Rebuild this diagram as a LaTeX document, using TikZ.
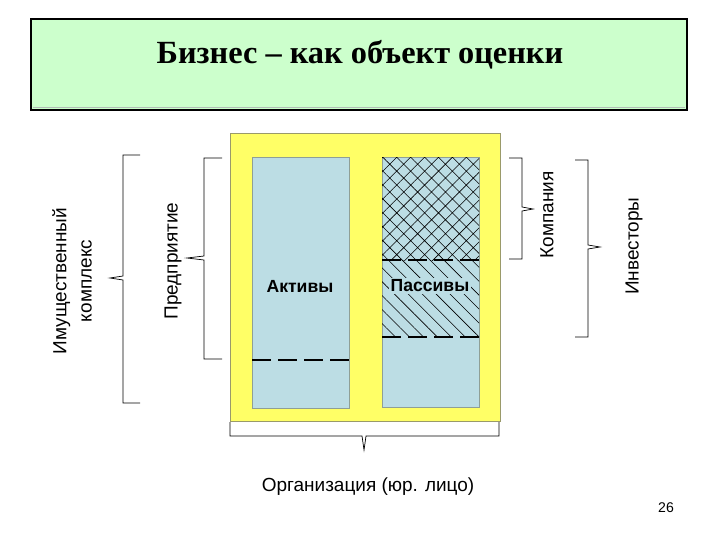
\documentclass[tikz,border=0pt]{standalone}
\usepackage{fontspec}
\setmainfont{Liberation Sans}
\newfontfamily\titlefont{Liberation Serif}
\usetikzlibrary{patterns.meta}
\definecolor{mint}{HTML}{CCFFCC}
\definecolor{lemon}{HTML}{FFFF66}
\definecolor{sky}{HTML}{BCDDE4}
\definecolor{olive}{HTML}{9A9A6A}
\definecolor{rim}{HTML}{8F9F96}

\begin{document}
\begin{tikzpicture}[x=0.025cm,y=-0.025cm,line join=miter,
  lbl/.style={font=\fontsize{13.5}{18}\selectfont},
  rlbl/.style={lbl,rotate=90,align=center,inner sep=0pt},
  brk/.style={draw=black,line width=0.5pt},
  cut/.style={line width=1.8pt,dash pattern=on 13.5pt off 5pt}]
  \useasboundingbox (0,0) rectangle (720,540);

  % Title panel.
  \node[draw=black,line width=1.6pt,fill=mint,minimum width=16.4cm,
        minimum height=2.275cm,inner sep=0pt] (panel) at (359,64.5) {};
  \draw[rim!70,line width=0.6pt] (33,107) -- (685,107);
  \node[font=\titlefont\bfseries\fontsize{23}{25}\selectfont] (title) at (360,55)
    {Бизнес – как объект оценки};

  % Organisation body with assets and liabilities.
  \draw[olive,fill=lemon] (230,133) rectangle (500,421);
  \draw[rim,fill=sky] (252,157) rectangle (349,408);
  \draw[rim,fill=sky] (382,157) rectangle (479,407);
  \fill[pattern={Hatch[angle=45,distance=7pt,line width=0.4pt]}]
    (382,157) rectangle (479,260);
  \fill[pattern={Lines[angle=-45,distance=7pt,line width=0.4pt]}]
    (382,260) rectangle (479,337);
  \draw[cut] (252,360) -- (349,360);
  \draw[cut] (382,260) -- (479,260);
  \draw[cut] (382,337) -- (479,337);
  \node[font=\bfseries\fontsize{12.5}{14}\selectfont] (assets) at (300,286) {Активы};
  \node[font=\bfseries\fontsize{12.5}{14}\selectfont,fill=sky,inner sep=1pt]
    (liab) at (430,286) {Пассивы};

  % Braces.
  \draw[brk] (140,155) -- (123,155) -- (123,276) -- (110,278) -- (123,280)
    -- (123,403) -- (140,403);
  \draw[brk] (222,158) -- (204,158) -- (204,256) -- (187,258) -- (204,260)
    -- (204,359) -- (222,359);
  \draw[brk] (509,158) -- (522,158) -- (522,207) -- (533,209) -- (522,211)
    -- (522,259) -- (509,259);
  \draw[brk] (575,160) -- (588,160) -- (588,245) -- (600,247) -- (588,249)
    -- (588,337) -- (575,337);
  \draw[brk] (230,422) -- (230,436) -- (362,436) -- (364,450) -- (366,436)
    -- (499,436) -- (499,422);

  \node[rlbl] (property) at (72,281) {Имущественный\\комплекс};
  \node[rlbl] (enterprise) at (173,261) {Предприятие};
  \node[rlbl] (company) at (547,215) {Компания};
  \node[rlbl] (investors) at (634,246) {Инвесторы};
  \node[lbl] (legal) at (368,487) {Организация (юр. лицо)};
  \node[font=\fontsize{10}{12}\selectfont] (page) at (666,508) {26};
\end{tikzpicture}
\end{document}
